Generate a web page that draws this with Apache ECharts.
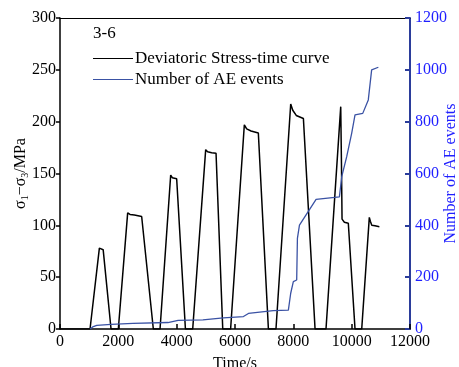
<!DOCTYPE html>
<html>
<head>
<meta charset="utf-8">
<script src="https://cdn.jsdelivr.net/npm/echarts@6/dist/echarts.min.js"></script>
<style>
  html, body { margin: 0; padding: 0; background: #fff; }
  #main { width: 459px; height: 367px; }
</style>
</head>
<body>
<div id="main"></div>
<script>
// 数据：偏应力-时间曲线 (s, MPa)
var stressTime = [0, 1030, 1350, 1380, 1480, 1750, 2000, 2320, 2400, 2550, 2800, 3200, 3430, 3795, 3850, 4000, 4300, 4550, 4995, 5060, 5200, 5350, 5580, 5850, 6320, 6400, 6550, 6800, 7145, 7405, 7910, 7980, 8100, 8345, 8745, 9120, 9625, 9650, 9670, 9750, 9885, 10115, 10345, 10605, 10640, 10690, 10800, 10950];
var stressVal = [0, 0, 78, 77, 76.5, 0, 0, 112, 110.5, 110, 108.5, 0, 0, 148.5, 146, 145, 0, 0, 173, 171, 170, 169.5, 0, 0, 197, 193, 191, 189, 0, 0, 217, 211, 206, 203, 0, 0, 214.5, 160, 106, 103, 102, 0, 0, 107.7, 104, 100, 99.5, 98.7];

// 声发射事件数
var aeTime = [1030, 1120, 1260, 1750, 2500, 3700, 4050, 4900, 5600, 6290, 6460, 7310, 7830, 7910, 8000, 8115, 8140, 8195, 8210, 8780, 9580, 9660, 9830, 10000, 10115, 10380, 10570, 10685, 10915];
var aeVal = [0, 8, 14, 18, 22, 25, 33, 35, 43, 48, 60, 71, 73, 138, 183, 189, 350, 350, 401, 500, 510, 588, 665, 755, 826, 832, 884, 1000, 1010];

var leftTicks = [0, 50, 100, 150, 200, 250, 300];
var rightTicks = [0, 200, 400, 600, 800, 1000, 1200];

function zip(a, b) {
  var out = [];
  for (var i = 0; i < a.length; i++) out.push([a[i], b[i]]);
  return out;
}

function plain(v) { return String(v); }

var font = 'Liberation Serif';
var blueText = '#1f1fff';
var blueAxis = '#2b3d9b';

var chart = echarts.init(document.getElementById('main'));

var option = {
  animation: false,
  textStyle: { fontFamily: font },
  grid: { left: 60, right: 49, top: 18, bottom: 38, containLabel: false, outerBoundsMode: 'none' },
  legend: {
    left: 88,
    top: 45,
    orient: 'vertical',
    itemGap: 4,
    itemWidth: 40,
    itemHeight: 16,
    icon: 'path://M0,7.4 L40,7.4 L40,8.6 L0,8.6 Z',
    textStyle: { fontFamily: font, fontSize: 17, color: '#000', padding: [0, 0, 0, -3] },
    data: ['Deviatoric Stress-time curve', 'Number of AE events']
  },
  graphic: [{
    type: 'text',
    left: 93,
    top: 25,
    style: { text: '3-6', fontFamily: font, fontSize: 17, fill: '#000' }
  }],
  xAxis: [{
    type: 'value',
    min: 0,
    max: 12000,
    interval: 2000,
    name: 'Time/s',
    nameLocation: 'middle',
    nameGap: 27,
    nameMoveOverlap: false,
    nameTextStyle: { fontFamily: font, fontSize: 16, color: '#000' },
    axisLine: { onZero: false, lineStyle: { color: '#000', width: 1.5 } },
    axisTick: { inside: true, length: 5, lineStyle: { color: '#000', width: 1.5 } },
    axisLabel: { fontFamily: font, fontSize: 16, color: '#000', margin: 5, formatter: plain },
    splitLine: { show: false }
  }, {
    type: 'value',
    position: 'top',
    min: 0,
    max: 12000,
    axisLine: { show: true, onZero: false, lineStyle: { color: '#000', width: 1 } },
    axisTick: { show: false },
    axisLabel: { show: false },
    splitLine: { show: false }
  }],
  yAxis: [{
    type: 'value',
    min: 0,
    max: 300,
    interval: 50,
    name: '{a|σ}{s|1}{a|−σ}{s|3}{a|/MPa}',
    nameLocation: 'middle',
    nameGap: 30,
    nameMoveOverlap: false,
    nameTextStyle: {
      rich: {
        a: { fontFamily: font, fontSize: 16, color: '#000' },
        s: { fontFamily: font, fontSize: 10, color: '#000', verticalAlign: 'bottom', padding: [8, 0, 0, 0] }
      }
    },
    axisLine: { show: true, onZero: false, lineStyle: { color: '#000', width: 1.5 } },
    axisTick: { show: true, length: 4, lineStyle: { color: '#000', width: 1.5 } },
    axisLabel: { fontFamily: font, fontSize: 16, color: '#000', margin: 4, formatter: plain },
    splitLine: { show: false }
  }, {
    type: 'value',
    position: 'right',
    min: 0,
    max: 1200,
    interval: 200,
    name: 'Number of AE events',
    nameLocation: 'middle',
    nameGap: 33,
    nameMoveOverlap: false,
    nameTextStyle: { fontFamily: font, fontSize: 16, color: blueText },
    axisLine: { show: true, onZero: false, lineStyle: { color: blueAxis, width: 2 } },
    axisTick: { show: true, inside: true, length: 5, lineStyle: { color: blueAxis, width: 2 } },
    axisLabel: { fontFamily: font, fontSize: 16, color: blueText, margin: 5, formatter: plain },
    splitLine: { show: false }
  }],
  series: [{
    name: 'Deviatoric Stress-time curve',
    type: 'line',
    xAxisIndex: 0,
    yAxisIndex: 0,
    showSymbol: false,
    symbol: 'none',
    lineStyle: { color: '#000', width: 1.5 },
    itemStyle: { color: '#000' },
    data: zip(stressTime, stressVal)
  }, {
    name: 'Number of AE events',
    type: 'line',
    xAxisIndex: 0,
    yAxisIndex: 1,
    showSymbol: false,
    symbol: 'none',
    lineStyle: { color: '#3a52a4', width: 1.3 },
    itemStyle: { color: '#3a52a4' },
    data: zip(aeTime, aeVal)
  }]
};

chart.setOption(option);
</script>
</body>
</html>
